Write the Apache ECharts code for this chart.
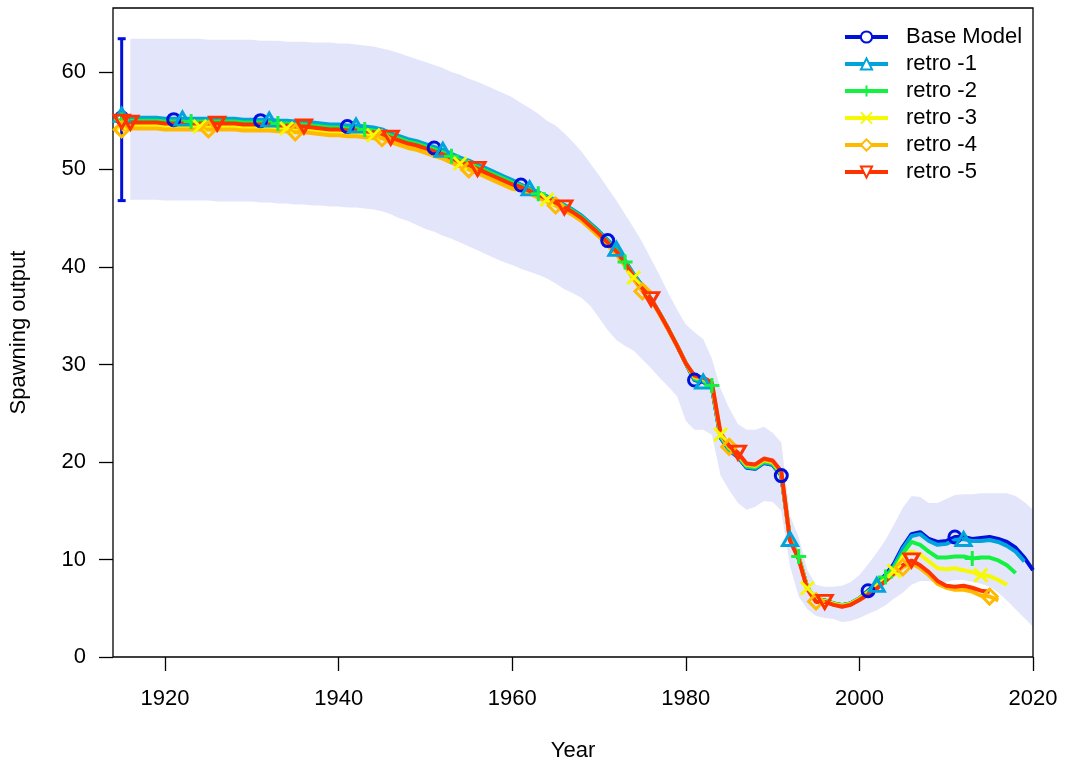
<!DOCTYPE html>
<html><head><meta charset="utf-8">
<script src="https://cdn.jsdelivr.net/npm/echarts@6/dist/echarts.min.js"></script>
<style>html,body{margin:0;padding:0;background:#fff}#c{width:1067px;height:767px}</style>
</head><body><div id="c"></div>
<script>
// ---------------- data ----------------
const xTickLabels = [1920, 1940, 1960, 1980, 2000, 2020];
const yTickLabels = [0, 10, 20, 30, 40, 50, 60];
const seriesNames = ['Base Model', 'retro -1', 'retro -2', 'retro -3', 'retro -4', 'retro -5'];
const firstYear = 1915, lastYear = 2020;   // 1915 = unfished (virgin) point

const base = [
  55.3, 55.2, 55.2, 55.2, 55.2, 55.1,
  55.1, 55.1, 55.1, 55.1, 55.1, 55.1, 55.1, 55.1, 55.0, 55.0,
  55.0, 55.0, 54.9, 54.9, 54.8, 54.8, 54.7, 54.6, 54.5, 54.5,
  54.4, 54.4, 54.3, 54.2, 54.0, 53.6, 53.3, 53.0, 52.8, 52.5,
  52.2, 51.9, 51.5, 51.1, 50.8, 50.4, 50.0, 49.6, 49.2, 48.8,
  48.4, 48.0, 47.6, 47.2, 46.8, 46.3, 45.8, 45.2, 44.4, 43.6,
  42.7, 41.8, 40.6, 39.2, 38.0, 36.7, 35.2, 33.6, 31.9, 30.1,
  28.4, 28.2, 27.7, 22.5, 21.2, 20.5, 19.4, 19.3, 19.9, 19.7,
  18.6, 12.1, 10.2, 7.1, 5.8, 5.8, 5.5, 5.3, 5.5, 6.0,
  6.8, 7.6, 8.4, 9.6, 11.3, 12.6, 12.8, 12.1, 11.8, 11.9,
  12.3, 12.3, 12.1, 12.2, 12.3, 12.1, 11.8, 11.2, 10.2, 8.9
];
const retro1 = [
  55.6, 55.3, 55.3, 55.3, 55.3, 55.2,
  55.2, 55.2, 55.2, 55.2, 55.2, 55.2, 55.2, 55.2, 55.1, 55.1,
  55.1, 55.1, 55.0, 55.0, 54.9, 54.9, 54.8, 54.7, 54.6, 54.6,
  54.5, 54.5, 54.4, 54.3, 54.1, 53.7, 53.4, 53.1, 52.9, 52.6,
  52.3, 52.0, 51.6, 51.2, 50.9, 50.5, 50.1, 49.7, 49.3, 48.9,
  48.45, 48.05, 47.65, 47.25, 46.85, 46.35, 45.85, 45.25, 44.45, 43.65,
  42.75, 41.85, 40.65, 39.25, 38.05, 36.7, 35.2, 33.6, 31.9, 30.1,
  28.45, 28.25, 27.75, 22.55, 21.25, 20.55, 19.45, 19.35, 19.95, 19.75,
  18.65, 12.1, 10.2, 7.1, 5.8, 5.8, 5.5, 5.3, 5.5, 6.0,
  6.6, 7.4, 8.2, 9.4, 11.1, 12.4, 12.6, 11.9, 11.5, 11.6,
  12.0, 12.1, 11.9, 11.9, 12.0, 11.8, 11.4, 10.8, 9.8, null
];
const retro2 = [
  55.1, 55.0, 55.0, 55.0, 55.0, 54.9,
  54.9, 54.9, 54.9, 54.9, 54.9, 54.9, 54.9, 54.9, 54.8, 54.8,
  54.8, 54.8, 54.7, 54.7, 54.6, 54.6, 54.5, 54.4, 54.3, 54.3,
  54.2, 54.2, 54.1, 54.0, 53.85, 53.45, 53.15, 52.85, 52.65, 52.35,
  52.05, 51.75, 51.35, 50.95, 50.65, 50.25, 49.85, 49.45, 49.05, 48.65,
  48.3, 47.9, 47.5, 47.1, 46.7, 46.2, 45.7, 45.1, 44.3, 43.5,
  42.6, 41.7, 40.5, 39.1, 37.9, 36.7, 35.2, 33.6, 31.9, 30.1,
  28.55, 28.35, 27.85, 22.65, 21.35, 20.65, 19.55, 19.45, 20.05, 19.85,
  18.75, 12.1, 10.3, 7.1, 5.8, 5.8, 5.5, 5.3, 5.5, 6.0,
  6.7, 7.5, 8.2, 9.2, 10.6, 11.8, 11.5, 10.8, 10.2, 10.2,
  10.3, 10.3, 10.1, 10.2, 10.2, 9.9, 9.4, 8.6, null, null
];
const retro3 = [
  54.6, 54.5, 54.5, 54.5, 54.5, 54.4,
  54.4, 54.4, 54.4, 54.4, 54.4, 54.4, 54.4, 54.4, 54.3, 54.3,
  54.3, 54.3, 54.2, 54.2, 54.1, 54.1, 54.0, 53.9, 53.8, 53.8,
  53.7, 53.7, 53.6, 53.5, 53.5, 53.1, 52.8, 52.5, 52.3, 52.0,
  51.7, 51.4, 51.0, 50.6, 50.3, 49.9, 49.5, 49.1, 48.7, 48.3,
  48.1, 47.7, 47.3, 46.9, 46.5, 46.0, 45.5, 44.9, 44.1, 43.3,
  42.4, 41.5, 40.3, 38.9, 37.7, 36.7, 35.2, 33.6, 31.9, 30.1,
  28.7, 28.5, 28.0, 22.8, 21.5, 20.8, 19.7, 19.6, 20.2, 20.0,
  18.9, 12.05, 10.15, 7.05, 5.75, 5.75, 5.45, 5.25, 5.45, 5.95,
  6.6, 7.3, 8.0, 8.8, 10.3, 10.8, 10.5, 9.8, 9.1, 9.0,
  9.1, 8.9, 8.7, 8.4, 8.3, 7.9, 7.4, null, null, null
];
const retro4 = [
  54.1, 54.2, 54.2, 54.2, 54.2, 54.1,
  54.1, 54.1, 54.1, 54.1, 54.1, 54.1, 54.1, 54.1, 54.0, 54.0,
  54.0, 54.0, 53.9, 53.9, 53.8, 53.8, 53.7, 53.6, 53.5, 53.5,
  53.4, 53.4, 53.3, 53.2, 53.2, 52.8, 52.5, 52.2, 52.0, 51.7,
  51.4, 51.1, 50.7, 50.3, 50.0, 49.6, 49.2, 48.8, 48.4, 48.0,
  47.9, 47.5, 47.1, 46.7, 46.3, 45.8, 45.3, 44.7, 43.9, 43.1,
  42.2, 41.3, 40.1, 38.7, 37.5, 36.6, 35.1, 33.5, 31.9, 30.1,
  28.75, 28.55, 28.05, 22.85, 21.55, 20.85, 19.75, 19.65, 20.25, 20.05,
  18.95, 12.0, 10.1, 7.0, 5.7, 5.7, 5.4, 5.2, 5.4, 5.9,
  6.5, 7.1, 7.8, 8.5, 9.2, 9.6, 9.1, 8.4, 7.5, 7.1,
  6.9, 6.9, 6.7, 6.3, 6.2, 5.8, null, null, null, null
];
const retro5 = [
  54.9, 54.8, 54.8, 54.8, 54.8, 54.7,
  54.7, 54.7, 54.7, 54.7, 54.7, 54.7, 54.7, 54.7, 54.6, 54.6,
  54.6, 54.6, 54.5, 54.5, 54.4, 54.4, 54.3, 54.2, 54.1, 54.1,
  54.0, 54.0, 53.9, 53.8, 53.65, 53.25, 52.95, 52.65, 52.45, 52.15,
  51.85, 51.55, 51.15, 50.75, 50.45, 50.05, 49.65, 49.25, 48.85, 48.45,
  48.2, 47.8, 47.4, 47.0, 46.6, 46.1, 45.6, 45.0, 44.2, 43.4,
  42.5, 41.6, 40.4, 39.0, 37.8, 36.7, 35.2, 33.6, 31.9, 30.1,
  28.85, 28.65, 28.15, 22.95, 21.65, 20.95, 19.85, 19.75, 20.35, 20.15,
  19.05, 11.95, 10.05, 6.95, 5.65, 5.65, 5.35, 5.15, 5.35, 5.85,
  6.4, 7.0, 7.8, 8.6, 9.4, 9.9, 9.4, 8.7, 7.8, 7.3,
  7.2, 7.3, 7.1, 6.8, 6.7, null, null, null, null, null
];

// Base-model 95% interval, 1916-2020
const bandUpper = [
  63.4, 63.4, 63.4, 63.4, 63.4, 63.4, 63.4, 63.4, 63.4, 63.3,
  63.3, 63.3, 63.3, 63.3, 63.3, 63.2, 63.2, 63.2, 63.1, 63.1,
  63.1, 63.0, 63.0, 63.0, 62.9, 62.9, 62.8, 62.7, 62.6, 62.4,
  62.2, 61.9, 61.6, 61.3, 61.0, 60.7, 60.4, 60.0, 59.7, 59.3,
  59.0, 58.6, 58.2, 57.8, 57.4, 56.8, 56.3, 55.7, 55.0, 54.5,
  53.7, 52.8, 51.8, 50.6, 49.4, 48.1, 46.8, 45.4, 44.0, 42.5,
  40.8, 39.1, 37.3, 35.6, 34.1, 33.3, 32.6, 30.6, 27.5, 25.5,
  23.9, 23.3, 23.3, 23.6, 23.0, 22.0, 14.5, 12.3, 8.9, 7.4,
  7.2, 7.2, 7.3, 7.7, 8.4, 9.5, 10.7, 12.0, 13.6, 15.3,
  16.5, 16.4, 15.8, 15.8, 16.2, 16.6, 16.7, 16.7, 16.8, 16.8,
  16.8, 16.8, 16.5, 15.9, 15.1
];
const bandLower = [
  46.9, 46.9, 46.9, 46.9, 46.8, 46.8, 46.8, 46.8, 46.8, 46.8,
  46.7, 46.7, 46.7, 46.7, 46.7, 46.6, 46.6, 46.5, 46.5, 46.4,
  46.4, 46.3, 46.3, 46.2, 46.2, 46.1, 46.1, 46.0, 45.9, 45.7,
  45.4, 45.0, 44.7, 44.3, 43.9, 43.6, 43.2, 42.9, 42.5, 42.1,
  41.7, 41.3, 40.9, 40.5, 40.2, 39.8, 39.5, 39.2, 38.8, 38.3,
  37.7, 37.3, 36.8, 36.0, 34.8, 33.5, 32.5, 31.9, 31.4, 30.5,
  29.6, 28.6, 27.7, 26.7, 24.2, 23.3, 23.3, 22.8, 18.6, 17.1,
  15.8, 15.1, 15.4, 16.0, 15.9, 15.0, 9.3, 6.2, 4.9, 4.2,
  4.0, 3.9, 3.6, 3.7, 4.0, 4.4, 4.8, 5.3, 6.0, 6.6,
  7.4, 7.8, 7.8, 7.6, 7.7, 7.9, 7.9, 7.7, 7.5, 7.2,
  6.6, 5.8, 4.9, 4.0, 3.1
];
// Unfished-value interval (error bar at 1915)
const virginInterval = [46.8, 63.4];

const markerYears = [
  [1915, 1921, 1931, 1941, 1951, 1961, 1971, 1981, 1991, 2001, 2011],
  [1915, 1922, 1932, 1942, 1952, 1962, 1972, 1982, 1992, 2002, 2012],
  [1915, 1923, 1933, 1943, 1953, 1963, 1973, 1983, 1993, 2003, 2013],
  [1915, 1924, 1934, 1944, 1954, 1964, 1974, 1984, 1994, 2004, 2014],
  [1915, 1925, 1935, 1945, 1955, 1965, 1975, 1985, 1995, 2005, 2015],
  [1915, 1916, 1926, 1936, 1946, 1956, 1966, 1976, 1986, 1996, 2006]
];

// ---------------- styling ----------------
const allSeries = [base, retro1, retro2, retro3, retro4, retro5];
const colors = ['#0010DB', '#00A4DB', '#13F240', '#F6F905', '#FFBA00', '#FF3300'];
const plusPath = 'path://M5,0L5,10M0,5L10,5';
const crossPath = 'path://M0,0L10,10M10,0L0,10';
const symbols = ['circle', 'triangle', plusPath, crossPath, 'diamond', 'triangle'];
const legendSymbols = ['emptyCircle', 'emptyTriangle', plusPath, crossPath, 'emptyDiamond', 'emptyTriangle'];
const symSizes = [12, [15, 13], 15, 13, 15, [15, 13]];
const symRot = [0, 0, 0, 0, 0, 180];
const FONT = '"Liberation Sans", Arial, sans-serif';
const FS = 22;

const years = [];
for (let y = firstYear; y <= lastYear; y++) years.push(y);
const bandYears = years.slice(1);

const series = [];
series.push({
  type: 'custom', name: 'band', silent: true, z: 1,
  data: bandYears.map((y, i) => [y, bandLower[i], bandUpper[i]]),
  encode: { x: 0, y: [1, 2] },
  renderItem: function (params, api) {
    if (params.dataIndex !== 0) return null;
    const pts = [];
    for (let i = 0; i < bandYears.length; i++) pts.push(api.coord([bandYears[i], bandUpper[i]]));
    for (let i = bandYears.length - 1; i >= 0; i--) pts.push(api.coord([bandYears[i], bandLower[i]]));
    return { type: 'polygon', shape: { points: pts }, style: { fill: 'rgba(0,16,219,0.11)' } };
  }
});
series.push({
  type: 'line', name: 'virginCI', silent: true, z: 2,
  data: [[firstYear, virginInterval[0]], [firstYear, virginInterval[1]]],
  lineStyle: { color: colors[0], width: 3 },
  symbol: 'rect', symbolSize: [8, 3], showSymbol: true,
  itemStyle: { color: colors[0] }
});
allSeries.forEach((arr, k) => {
  series.push({
    type: 'line', name: seriesNames[k], z: 3,
    data: years.map((y, i) => [y, arr[i]]),
    showSymbol: false, symbol: legendSymbols[k], symbolRotate: symRot[k],
    lineStyle: { color: colors[k], width: 4 },
    itemStyle: { color: colors[k], borderColor: colors[k], borderWidth: 3 },
    emphasis: { disabled: true }
  });
  series.push({
    type: 'scatter', name: seriesNames[k] + ' pts', z: 3, silent: true,
    data: markerYears[k].map(y => [y, arr[years.indexOf(y)]]),
    symbol: symbols[k], symbolSize: symSizes[k], symbolRotate: symRot[k],
    itemStyle: { color: 'rgba(0,0,0,0)', borderColor: colors[k], borderWidth: 3, opacity: 1 }
  });
});

const chart = echarts.init(document.getElementById('c'), null, { renderer: 'canvas' });
chart.setOption({
  animation: false,
  backgroundColor: '#fff',
  textStyle: { fontFamily: FONT },
  grid: { left: 112, right: 34, top: 8, bottom: 109, show: true, borderColor: '#000', borderWidth: 1.3, backgroundColor: 'rgba(0,0,0,0)' },
  legend: {
    data: seriesNames, orient: 'vertical', left: 838, top: 21,
    itemWidth: 43, itemHeight: 14, itemGap: 5.0,
    lineStyle: { width: 4 },
    textStyle: { fontSize: FS, color: '#000', fontFamily: FONT, lineHeight: 22, padding: [0, 0, 0, 13] },
    selectedMode: false
  },
  xAxis: {
    type: 'value', min: 1914, max: 2020,
    axisLine: { show: false }, splitLine: { show: false },
    axisTick: { show: true, length: 14, lineStyle: { color: '#000', width: 1.3 }, customValues: xTickLabels },
    axisLabel: { customValues: xTickLabels, formatter: v => String(v), fontSize: FS, color: '#000', margin: 31, fontFamily: FONT },
    name: 'Year', nameLocation: 'middle', nameGap: 83,
    nameTextStyle: { fontSize: FS, color: '#000', fontFamily: FONT }
  },
  yAxis: {
    type: 'value', min: 0, max: 66.55,
    axisLine: { show: false }, splitLine: { show: false },
    axisTick: { show: true, length: 14, lineStyle: { color: '#000', width: 1.3 }, customValues: yTickLabels },
    axisLabel: { customValues: yTickLabels, formatter: v => String(v), fontSize: FS, color: '#000', margin: 27, fontFamily: FONT },
    name: 'Spawning output', nameLocation: 'middle', nameGap: 83, nameRotate: 90,
    nameTextStyle: { fontSize: FS, color: '#000', fontFamily: FONT }
  },
  series: series
});
</script></body></html>
